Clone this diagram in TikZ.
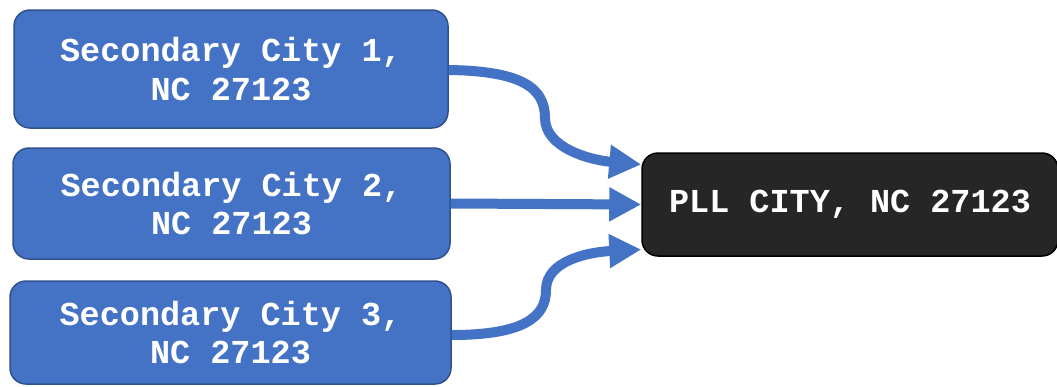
\documentclass[tikz,border=0pt]{standalone}
\usepackage{fontspec}
\setmonofont{Liberation Mono}
\usetikzlibrary{arrows.meta,calc}
\definecolor{boxblue}{HTML}{4472C4}
\definecolor{boxedge}{HTML}{2F528F}
\definecolor{darkbox}{HTML}{262626}
\tikzset{
  citybox/.style={draw=boxedge, line width=1.5pt, fill=boxblue, rounded corners=16pt,
    text=white, align=center, font=\ttfamily\bfseries\fontsize{33.5}{38.5}\selectfont,
    inner sep=0pt},
  pllbox/.style={draw=black, line width=1.5pt, fill=darkbox, rounded corners=16pt,
    text=white, align=center, font=\ttfamily\bfseries\fontsize{33.5}{38.5}\selectfont,
    inner sep=0pt},
  link/.style={draw=boxblue, line width=10pt, -{Triangle[length=32pt,width=32pt]}}
}
\begin{document}
\begin{tikzpicture}[x=1pt,y=-1pt]
\useasboundingbox (0,0) rectangle (1057,386);
\node[citybox, minimum width=434pt, minimum height=118pt] (b1) at (231,69) {Secondary City 1,\\NC 27123};
\node[citybox, minimum width=437pt, minimum height=111pt] (b2) at (231.5,203.5) {Secondary City 2,\\NC 27123};
\node[citybox, minimum width=441pt, minimum height=103pt] (b3) at (230.5,332.5) {Secondary City 3,\\NC 27123};
\node[pllbox, minimum width=416pt, minimum height=103pt] (pll) at (850,204.5) {PLL CITY, NC 27123};
\coordinate (t1) at ($(pll.west)+(0,-40)$);
\coordinate (t3) at ($(pll.west)+(0,45)$);
\coordinate (m1) at (545,118);
\coordinate (m3) at (546,290);
\draw[link] ($(b1.east)+(0,1)$) .. controls (522,71) and (545,88) .. (m1) .. controls (545,148) and (590,160) .. (t1);
\draw[link] (b2.east) -- (pll.west);
\draw[link] ($(b3.east)+(0,2.5)$) .. controls (522,335) and (546,318) .. (m3) .. controls (546,260) and (590,252) .. (t3);
\end{tikzpicture}
\end{document}
